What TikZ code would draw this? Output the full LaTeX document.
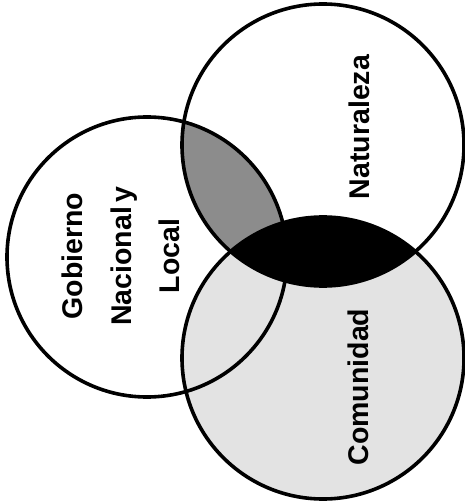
\documentclass[tikz,border=0pt]{standalone}
\usepackage{fontspec}
\setmainfont{Liberation Sans}
\begin{document}
\begin{tikzpicture}[x=1pt,y=-1pt,
  ring/.style={draw=black,line width=3.6pt},
  lbl/.style={font=\bfseries\fontsize{28.5}{48.5}\selectfont,rotate=90,align=center,inner sep=0pt}]
\useasboundingbox[fill=white] (0,0) rectangle (464,502);
\coordinate (nat) at (323,145);
\coordinate (gob) at (147,257);
\coordinate (com) at (323,358);
% fills
\fill[black!11] (com) circle[radius=141pt];
\begin{scope}
  \clip (gob) circle[radius=140pt];
  \fill[black!45] (nat) circle[radius=141pt];
\end{scope}
\begin{scope}
  \clip (com) circle[radius=141pt];
  \fill[black] (nat) circle[radius=141pt];
\end{scope}
% outlines
\draw[ring] (nat) circle[radius=141pt];
\draw[ring] (gob) circle[radius=140pt];
\draw[ring] (com) circle[radius=141pt];
% labels
\node[lbl] (tnat) at (359,127) {Naturaleza};
\node[lbl] (tcom) at (358,387) {Comunidad};
\node[lbl] (tgob) at (121,256) {Gobierno\\Nacional\,y\\Local};
\end{tikzpicture}
\end{document}
